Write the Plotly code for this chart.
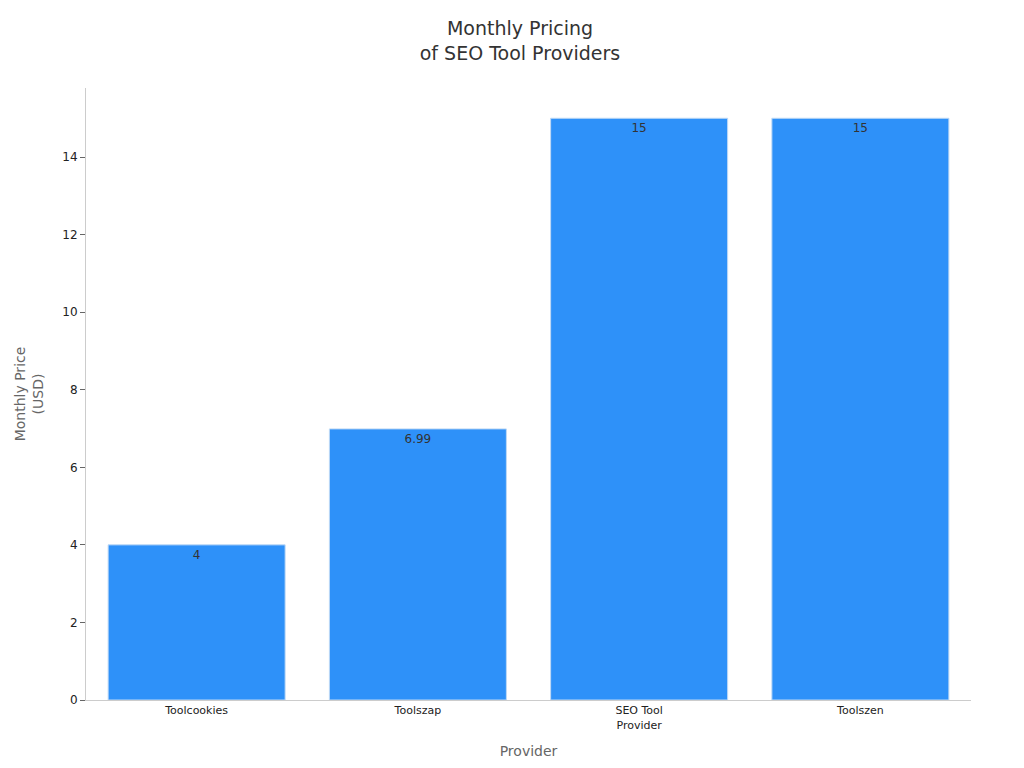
import plotly.graph_objects as go

providers = ["Toolcookies", "Toolszap", "SEO Tool<br>Provider", "Toolszen"]
prices = [4, 6.99, 15, 15]
labels = ["4", "6.99", "15", "15"]

fig = go.Figure(go.Bar(
    x=providers, y=prices, text=labels, textposition="inside",
    insidetextanchor="end", width=0.8,
    textfont=dict(color="#333333", size=12),
    marker=dict(color="#2E91F9", line=dict(color="#BFD9F5", width=1)),
))
fig.update_layout(
    width=1024, height=768,
    font=dict(family="DejaVu Sans", size=12, color="#222"),
    title=dict(text="Monthly Pricing<br>of SEO Tool Providers", x=0.5, xanchor="center",
               y=0.965, font=dict(size=19, color="#333")),
    plot_bgcolor="white", paper_bgcolor="white",
    margin=dict(l=78, r=61, t=80, b=76),
    showlegend=False,
)
fig.update_xaxes(title=dict(text="Provider", font=dict(size=14, color="#666")),
                 showline=True, linecolor="#ccc", ticks="", tickfont=dict(size=11))
fig.update_yaxes(title=dict(text="Monthly Price<br>(USD)", font=dict(size=14, color="#666")),
                 range=[0, 15.78], dtick=2, showline=True, linecolor="#ccc",
                 ticks="outside", ticklen=5, tickcolor="#666", showgrid=False, zeroline=False,
                 tickfont=dict(size=12))
fig.write_html("out.html")
